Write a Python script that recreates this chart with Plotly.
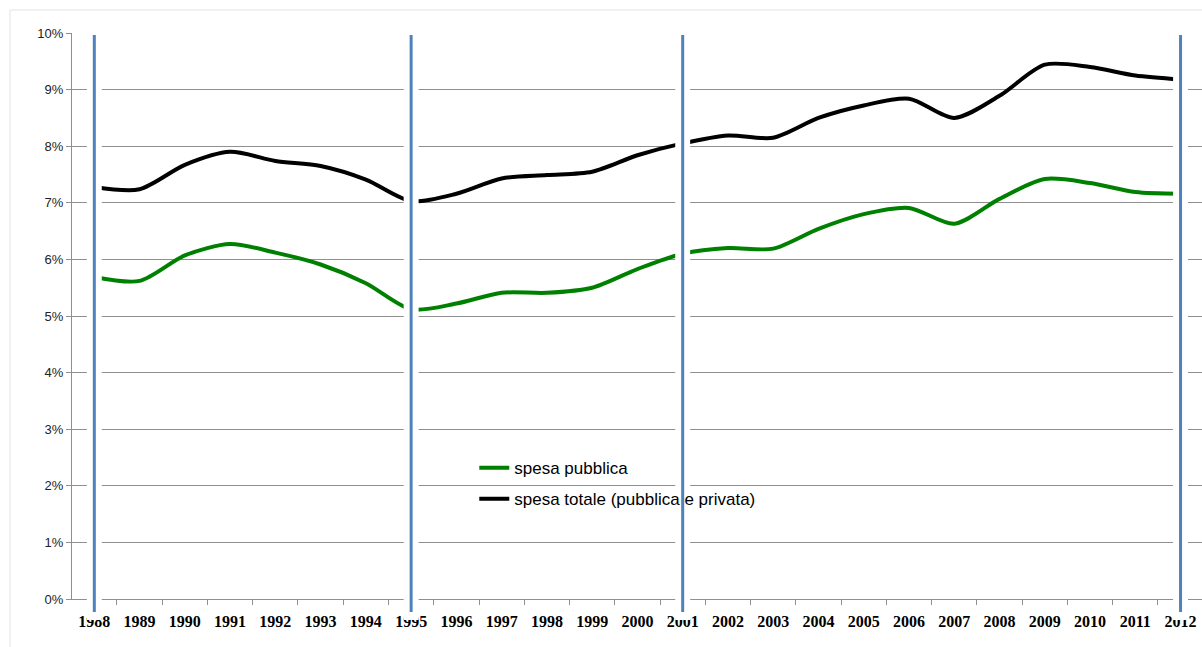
import plotly.graph_objects as go

# ---- data ----
years = list(range(1988, 2013))
spesa_pubblica = [5.69, 5.62, 6.07, 6.27, 6.12, 5.91, 5.58, 5.12, 5.22, 5.41, 5.41, 5.50, 5.83,
                  6.10, 6.20, 6.19, 6.54, 6.80, 6.91, 6.63, 7.07, 7.42, 7.35, 7.19, 7.16]
spesa_totale = [7.28, 7.24, 7.67, 7.90, 7.74, 7.65, 7.41, 7.03, 7.16, 7.43, 7.49, 7.55, 7.84,
                8.05, 8.19, 8.15, 8.50, 8.72, 8.84, 8.50, 8.89, 9.44, 9.40, 9.25, 9.18]
break_years = [1988, 1995, 2001, 2012]
y_ticks = list(range(0, 11))
y_labels = [f"{v}%" for v in y_ticks]
x_labels = [str(y) for y in years]
series_names = ["spesa pubblica", "spesa totale (pubblica e privata)"]

GRID = "#8f8f8f"
BLUE = "#4f81bd"

fig = go.Figure()
fig.add_trace(go.Scatter(x=years, y=spesa_pubblica, name=series_names[0], mode="lines",
                         line=dict(color="#008000", width=4, shape="spline", smoothing=0.8),
                         legendgroup="a"))
fig.add_trace(go.Scatter(x=years, y=spesa_totale, name=series_names[1], mode="lines",
                         line=dict(color="#000000", width=4, shape="spline", smoothing=0.8),
                         legendgroup="b"))

shapes = []
# faint outer frame
shapes.append(dict(type="rect", xref="paper", yref="paper", x0=-0.0549, x1=1.2, y0=-0.2, y1=1.0406,
                   line=dict(color="#e3e3e3", width=1), fillcolor="rgba(0,0,0,0)", layer="below"))
for by in break_years:
    shapes.append(dict(type="rect", xref="x", yref="paper", x0=by - 0.165, x1=by + 0.165,
                       y0=-0.037, y1=1.006, fillcolor="white", line=dict(width=0), layer="above"))
    shapes.append(dict(type="line", xref="x", yref="paper", x0=by, x1=by,
                       y0=-0.023, y1=0.9965, line=dict(color=BLUE, width=3), layer="above"))

fig.update_layout(
    width=1202, height=647,
    margin=dict(l=72, r=0, t=33, b=48),
    paper_bgcolor="white", plot_bgcolor="white",
    showlegend=True,
    legend=dict(x=0.356, y=0.263, xanchor="left", yanchor="top",
                font=dict(family="Liberation Sans", size=17, color="#000"),
                bgcolor="rgba(0,0,0,0)", tracegroupgap=6, itemwidth=30),
    shapes=shapes,
    xaxis=dict(range=[1987.507, 2012.474], tickmode="array", tickvals=years, ticktext=x_labels,
               ticks="", showgrid=False, zeroline=False, showline=True, linecolor=GRID, linewidth=1,
               tickfont=dict(family="Liberation Serif", size=16, color="#000", weight="bold"),
               ticklabelstandoff=8,
               minor=dict(tickmode="array", tickvals=[y + 0.5 for y in years[:-1]], ticks="outside",
                          ticklen=5, tickcolor=GRID, tickwidth=1, showgrid=False)),
    yaxis=dict(range=[0, 10], tickmode="array", tickvals=y_ticks, ticktext=y_labels,
               ticks="outside", ticklen=5, tickcolor=GRID, showgrid=True, gridcolor=GRID, gridwidth=1,
               zeroline=False, showline=True, linecolor=GRID, linewidth=1,
               tickfont=dict(family="Liberation Sans", size=13, color="#222")),
)

fig.write_html("out.html", config={"displayModeBar": False},
               post_script="document.body.style.margin='0';")
